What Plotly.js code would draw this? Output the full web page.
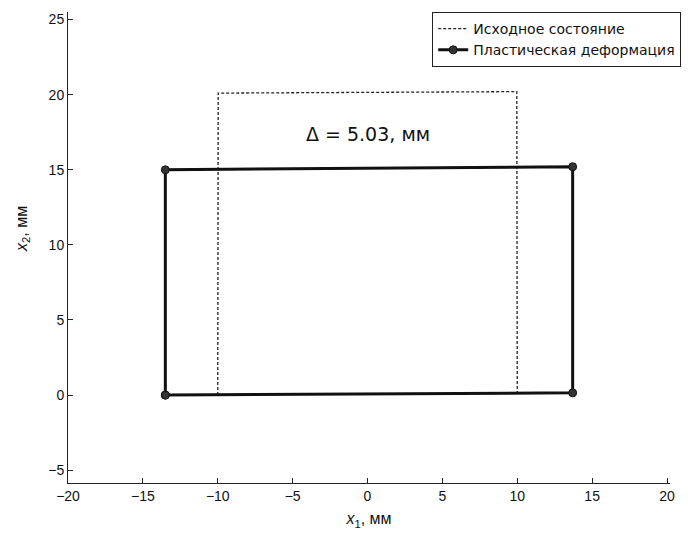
<!DOCTYPE html>
<html>
<head>
<meta charset="utf-8">
<script src="https://cdn.plot.ly/plotly-3.0.1.min.js"></script>
<style>html,body{margin:0;padding:0;background:#fff;}#chart{width:699px;height:538px;}</style>
</head>
<body>
<div id="chart"></div>
<script>
var initialX = [-10, -9.97, 9.97, 10];
var initialY = [0, 20.1, 20.2, 0];
var plasticX = [-13.5, -13.5, 13.7, 13.7, -13.5];
var plasticY = [0, 15.0, 15.2, 0.15, 0];
var seriesNames = ['Исходное состояние', 'Пластическая деформация'];
var annotationText = 'Δ = 5.03, мм';
var xTitle = '<i>x</i><sub>1</sub>, мм';
var yTitle = '<i>x</i><sub>2</sub>, мм';
var xTicks = [-20, -15, -10, -5, 0, 5, 10, 15, 20];
var yTicks = [-5, 0, 5, 10, 15, 20, 25];

var font = {family: 'Liberation Sans, Arial, sans-serif', color: '#111', size: 13};

var traces = [
  {x: initialX, y: initialY, name: seriesNames[0], mode: 'lines',
   line: {color: '#222', width: 1.3, dash: '3px,2px'}},
  {x: plasticX, y: plasticY, name: seriesNames[1], mode: 'lines+markers',
   line: {color: '#111', width: 3}, marker: {color: '#333', size: 8, line: {color: '#111', width: 1}}}
];

var layout = {
  width: 699, height: 538,
  margin: {l: 68, r: 29, t: 12, b: 55},
  paper_bgcolor: '#fff', plot_bgcolor: '#fff',
  font: font,
  showlegend: true,
  legend: {x: 0.605, y: 1.0, xanchor: 'left', yanchor: 'top', bgcolor: '#fff',
           bordercolor: '#222', borderwidth: 1,
           font: {family: 'DejaVu Sans, sans-serif', size: 14, color: '#111'},
           itemwidth: 30, tracegroupgap: 0},
  xaxis: {range: [-20, 20.2], tickvals: xTicks, ticks: 'inside', ticklen: 5, tickcolor: '#222',
          showline: true, linecolor: '#222', linewidth: 1, showgrid: false, zeroline: false,
          mirror: false, tickfont: {size: 14},
          title: {text: xTitle, font: {size: 16}, standoff: 10}},
  yaxis: {range: [-5.85, 25.5], tickvals: yTicks, ticks: 'inside', ticklen: 5, tickcolor: '#222',
          showline: true, linecolor: '#222', linewidth: 1, showgrid: false, zeroline: false,
          mirror: false, tickfont: {size: 14}},
  annotations: [
    {x: 0, y: 17.4, xref: 'x', yref: 'y', text: annotationText, showarrow: false,
     font: {family: 'DejaVu Sans, sans-serif', size: 19, color: '#111'}},
    {x: -0.076, y: 0.54, xref: 'paper', yref: 'paper', xanchor: 'center', yanchor: 'middle',
     text: yTitle, showarrow: false, textangle: -90, font: {size: 16, color: '#111'}}
  ]
};

Plotly.newPlot('chart', traces, layout, {displayModeBar: false, staticPlot: true});
</script>
</body>
</html>
